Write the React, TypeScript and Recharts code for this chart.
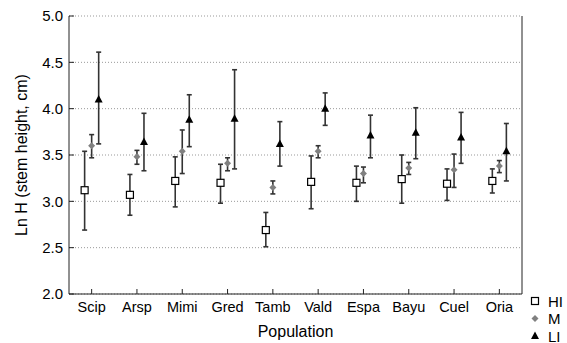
import React from 'react';
import { ScatterChart, Scatter, XAxis, YAxis, CartesianGrid, ErrorBar, Legend } from 'recharts';

const populations = ['Scip', 'Arsp', 'Mimi', 'Gred', 'Tamb', 'Vald', 'Espa', 'Bayu', 'Cuel', 'Oria'];
const yTicks = [2.0, 2.5, 3.0, 3.5, 4.0, 4.5, 5.0];
const seriesNames = ['HI', 'M', 'LI'];

const hiMean = [3.12, 3.07, 3.22, 3.2, 2.69, 3.21, 3.2, 3.24, 3.19, 3.22];
const hiLow = [2.69, 2.85, 2.94, 2.98, 2.51, 2.92, 3.0, 2.98, 3.01, 3.09];
const hiHigh = [3.54, 3.29, 3.48, 3.4, 2.88, 3.49, 3.38, 3.5, 3.35, 3.35];

const mMean = [3.6, 3.48, 3.54, 3.41, 3.15, 3.54, 3.3, 3.36, 3.34, 3.38];
const mLow = [3.47, 3.4, 3.3, 3.33, 3.08, 3.47, 3.2, 3.29, 3.15, 3.31];
const mHigh = [3.72, 3.55, 3.77, 3.47, 3.22, 3.6, 3.37, 3.42, 3.51, 3.44];

const liMean = [4.1, 3.64, 3.88, 3.89, 3.62, 4.0, 3.71, 3.74, 3.69, 3.54];
const liLow = [3.62, 3.33, 3.59, 3.35, 3.38, 3.82, 3.47, 3.46, 3.41, 3.22];
const liHigh = [4.61, 3.95, 4.15, 4.42, 3.86, 4.17, 3.93, 4.01, 3.96, 3.84];

// horizontal dodge of each group inside a category slot
const DODGE = 0.155;
const catTicks = populations.map((_, i) => i + 0.5);

const build = (mean: number[], low: number[], high: number[], shift: number) =>
  mean.map((v, i) => ({ x: i + 0.5 + shift, y: v, err: [v - low[i], high[i] - v] }));

const hiData = build(hiMean, hiLow, hiHigh, -DODGE);
const mData = build(mMean, mLow, mHigh, 0);
const liData = build(liMean, liLow, liHigh, DODGE);

const SquareMark = (p: any) => (
  <rect x={p.cx - 3.5} y={p.cy - 3.5} width={7} height={7} fill="#fff" stroke="#000" strokeWidth={1.2} />
);
const DiamondMark = (p: any) => (
  <polygon
    points={`${p.cx},${p.cy - 3.5} ${p.cx + 3.5},${p.cy} ${p.cx},${p.cy + 3.5} ${p.cx - 3.5},${p.cy}`}
    fill="#808080"
  />
);
const TriangleMark = (p: any) => (
  <polygon points={`${p.cx},${p.cy - 4.5} ${p.cx + 4},${p.cy + 3} ${p.cx - 4},${p.cy + 3}`} fill="#000" />
);

const marks = [SquareMark, DiamondMark, TriangleMark];

const LegendBox = () => (
  <svg width={42} height={56} style={{ overflow: 'visible' }}>
    {seriesNames.map((name, i) => {
      const M = marks[i];
      const cy = 10 + i * 17.5;
      return (
        <g key={name}>
          <M cx={7} cy={cy} />
          <text x={20} y={cy + 5.5} fontSize={15} fill="#000">
            {name}
          </text>
        </g>
      );
    })}
  </svg>
);

const App = () => {
  const tickStyle = { fontSize: 14.5, fill: '#000' };
  return (
    <div style={{ position: 'absolute', left: 0, top: 0, fontFamily: '"Liberation Sans", Arial, sans-serif' }}>
      <ScatterChart width={567} height={343} margin={{ top: 16, right: 0, bottom: 0, left: 0 }}>
        <CartesianGrid vertical={false} strokeDasharray="1 2" stroke="#999" />
        <XAxis
          type="number"
          dataKey="x"
          domain={[0, 10]}
          ticks={catTicks}
          tickFormatter={(v: number) => populations[Math.round(v - 0.5)]}
          height={49}
          tickSize={-5}
          tickMargin={13}
          tick={tickStyle}
          stroke="#222"
          label={{ value: 'Population', position: 'insideBottom', offset: 6, fontSize: 16, fill: '#000' }}
        />
        <XAxis
          xAxisId="top"
          orientation="top"
          type="number"
          domain={[0, 10]}
          ticks={catTicks}
          tickFormatter={() => ''}
          height={0}
          tickSize={-5}
          stroke="#222"
        />
        <YAxis
          type="number"
          dataKey="y"
          domain={[2, 5]}
          ticks={yTicks}
          tickFormatter={(v: number) => v.toFixed(1)}
          width={69}
          tickSize={-5}
          tickMargin={11}
          tick={{ fontSize: 15, fill: '#000' }}
          stroke="#222"
          label={{
            value: 'Ln H (stem height, cm)',
            angle: -90,
            position: 'insideLeft',
            offset: 21,
            fontSize: 16,
            fill: '#000',
            style: { textAnchor: 'middle' },
          }}
        />
        <YAxis
          yAxisId="right"
          orientation="right"
          type="number"
          domain={[2, 5]}
          ticks={yTicks}
          tickFormatter={() => ''}
          width={45}
          tickSize={-5}
          stroke="#222"
        />
        <Scatter name="HI" data={hiData} shape={SquareMark} isAnimationActive={false}>
          <ErrorBar dataKey="err" direction="y" width={2.5} stroke="#333" strokeWidth={1.6} />
        </Scatter>
        <Scatter name="M" data={mData} shape={DiamondMark} isAnimationActive={false}>
          <ErrorBar dataKey="err" direction="y" width={2.5} stroke="#333" strokeWidth={1.6} />
        </Scatter>
        <Scatter name="LI" data={liData} shape={TriangleMark} isAnimationActive={false}>
          <ErrorBar dataKey="err" direction="y" width={2.5} stroke="#333" strokeWidth={1.6} />
        </Scatter>
        <Legend
          layout="vertical"
          align="center"
          verticalAlign="middle"
          content={<LegendBox />}
          wrapperStyle={{ position: 'absolute', left: 528, top: 291, width: 42, height: 56 }}
        />
      </ScatterChart>
    </div>
  );
};

export default App;
